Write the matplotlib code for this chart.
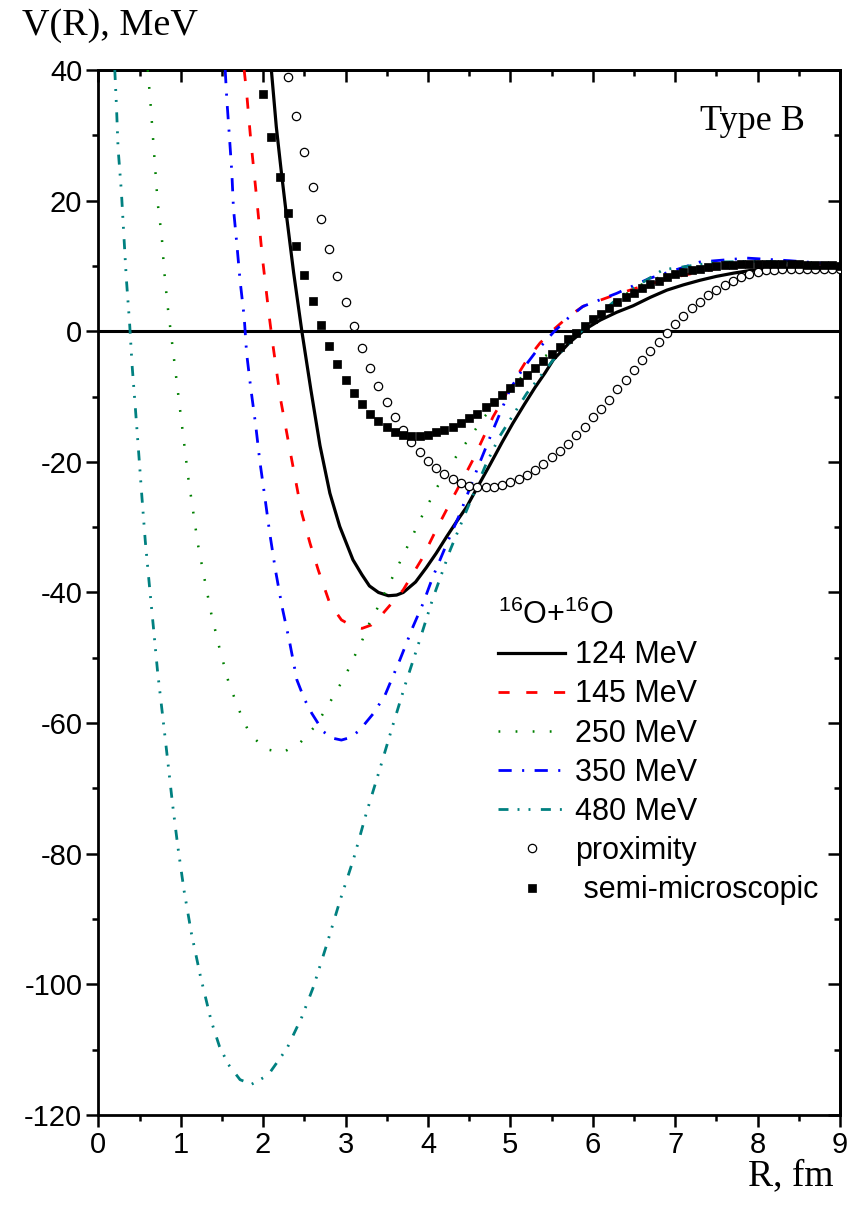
import matplotlib
matplotlib.use('Agg')
import matplotlib.pyplot as plt
from matplotlib.ticker import MultipleLocator

plt.rcParams['font.family'] = ['Liberation Sans', 'DejaVu Sans']
plt.rcParams['mathtext.fontset'] = 'custom'
plt.rcParams['mathtext.rm'] = 'Liberation Sans'
plt.rcParams['mathtext.it'] = 'Liberation Sans'
plt.rcParams['lines.scale_dashes'] = False
plt.rcParams['axes.unicode_minus'] = False

# 124 MeV (solid black)
r_124 = [2.10, 2.16, 2.22, 2.28, 2.37, 2.47, 2.58, 2.69, 2.81, 2.93, 3.09, 3.20, 3.29, 3.40, 3.52,
         3.62, 3.70, 3.85, 3.98, 4.10, 4.23, 4.35, 4.47, 4.60, 4.75, 4.90, 5.03, 5.17, 5.30, 5.42,
         5.52, 5.72, 5.92, 6.09, 6.29, 6.49, 6.70, 6.90, 7.10, 7.30, 7.50, 7.71, 7.91, 8.11, 8.51, 9.00]
v_124 = [40, 31.3, 24.5, 18.1, 9.0, 0, -9.0, -17.5, -24.8, -29.9, -35.0, -37.3, -39.0, -40.0, -40.5,
         -40.4, -40.0, -38.4, -36.2, -34.0, -31.4, -29.1, -26.9, -23.9, -20.5, -17.0, -14.1, -11.2, -8.6, -6.4,
         -4.4, -1.7, 0.4, 1.7, 2.9, 3.9, 5.2, 6.3, 7.1, 7.8, 8.4, 8.9, 9.3, 9.5, 9.7, 9.9]

# 145 MeV (red dashed)
r_145 = [1.77, 1.80, 1.85, 1.92, 1.99, 2.07, 2.11, 2.21, 2.34, 2.47, 2.57, 2.67, 2.81, 2.95, 3.09,
         3.20, 3.31, 3.42, 3.55, 3.70, 3.80, 3.92, 4.10, 4.31, 4.43, 4.55, 4.79, 5.00, 5.20, 5.36,
         5.52, 5.70, 5.88, 6.21, 6.60, 7.02, 7.50, 8.00, 8.50, 9.00]
v_145 = [40, 36.5, 29.3, 20.6, 11.4, 2.7, -1.3, -10.3, -19.2, -27.9, -32.5, -36.6, -41.7, -44.2, -45.2,
         -45.5, -45.0, -43.7, -41.8, -39.6, -37.5, -35.0, -30.4, -25.3, -22.5, -19.6, -13.1, -8.5, -4.4, -1.8,
         0.2, 2.2, 3.8, 5.3, 6.9, 8.35, 9.6, 10.2, 10.4, 10.2]

# 250 MeV (green dotted)
r_250 = [0.60, 0.63, 0.66, 0.69, 0.72, 0.77, 0.80, 0.84, 0.89, 0.94, 0.99, 1.04, 1.09, 1.15, 1.21,
         1.29, 1.37, 1.47, 1.58, 1.66, 1.74, 1.84, 2.03, 2.24, 2.45, 2.63, 2.76, 2.88, 3.00, 3.10,
         3.20, 3.29, 3.40, 3.50, 3.60, 3.70, 3.80, 3.90, 4.01, 4.12, 4.24, 4.38, 4.53, 4.67, 4.85,
         5.10, 5.36, 5.68, 6.00, 6.30, 6.60, 7.00, 7.50, 8.00, 8.50, 9.00]
v_250 = [40, 35.5, 30.3, 25.0, 19.7, 14.5, 9.2, 4.0, -1.2, -6.5, -11.8, -17.0, -22.3, -27.5, -32.7,
         -38.0, -43.2, -48.5, -53.7, -56.4, -59.0, -61.7, -64.0, -64.5, -63.0, -60.5, -57.9, -55.3, -52.7, -50.0,
         -47.4, -44.7, -42.1, -39.5, -36.9, -34.3, -31.7, -29.0, -26.3, -23.7, -21.1, -18.5, -15.9, -13.3, -10.8,
         -7.5, -4.3, -1.8, 1.8, 4.9, 7.2, 9.2, 10.3, 10.6, 10.5, 10.2]

# 350 MeV (blue dash-dot)
r_350 = [1.54, 1.56, 1.59, 1.62, 1.64, 1.68, 1.72, 1.77, 1.80, 1.85, 1.91, 1.96, 2.02, 2.08, 2.15,
         2.23, 2.32, 2.41, 2.50, 2.59, 2.73, 2.84, 2.95, 3.06, 3.17, 3.34, 3.48, 3.66, 3.82, 3.94,
         4.06, 4.23, 4.39, 4.61, 4.79, 5.00, 5.15, 5.30, 5.52, 5.70, 5.88, 6.29, 6.69, 7.30, 7.87,
         8.39, 9.00]
v_350 = [40, 35.4, 30.0, 24.4, 18.8, 13.5, 7.8, 2.2, -3.4, -8.7, -14.4, -19.9, -25.3, -30.9, -36.6,
         -42.2, -47.5, -53.4, -56.3, -58.5, -61.3, -62.3, -62.6, -62.2, -61.1, -58.5, -55.7, -50.3, -45.2, -41.7,
         -37.6, -32.5, -27.9, -20.7, -15.1, -8.8, -5.8, -3.3, -0.2, 2.0, 3.8, 5.8, 8.1, 10.6, 11.2,
         10.8, 10.2]

# 480 MeV (teal dash-dot-dot)
r_480 = [0.20, 0.22, 0.24, 0.28, 0.31, 0.34, 0.38, 0.41, 0.45, 0.49, 0.53, 0.57, 0.62, 0.67, 0.72,
         0.78, 0.84, 0.90, 0.965, 1.04, 1.13, 1.24, 1.37, 1.47, 1.58, 1.72, 1.86, 2.06, 2.29, 2.47,
         2.61, 2.77, 2.93, 3.10, 3.25, 3.41, 3.57, 3.73, 3.90, 4.06, 4.27, 4.47, 4.71, 4.87, 5.20,
         5.52, 5.76, 6.00, 6.33, 6.85, 7.50, 8.00, 8.50, 9.00]
v_480 = [40, 34.6, 28.0, 21.4, 14.7, 8.1, 1.2, -5.2, -11.8, -18.6, -25.5, -32.1, -38.9, -45.5, -52.2,
         -58.8, -65.5, -72.3, -78.9, -85.6, -92.2, -98.8, -105.6, -109.5, -112.3, -114.6, -115.3, -113.9, -109.8, -105.0,
         -100.4, -94.0, -87.3, -80.7, -73.9, -67.3, -60.5, -53.9, -47.3, -40.9, -33.5, -27.4, -20.2, -16.1, -9.5,
         -4.4, -1.3, 1.8, 5.3, 9.4, 10.6, 10.7, 10.5, 10.2]

# proximity (open circles), R = 2.3 ... 9.0
r_prox = [round(2.3 + 0.1 * i, 1) for i in range(68)]
v_prox = [38.9, 32.9, 27.4, 22.1, 17.2, 12.6, 8.4, 4.5, 0.85, -2.5,
          -5.6, -8.4, -10.9, -13.1, -15.1, -17.0, -18.5, -19.8, -21.0, -21.9,
          -22.7, -23.3, -23.7, -23.8, -23.9, -23.8, -23.6, -23.1, -22.7, -22.0,
          -21.2, -20.4, -19.3, -18.3, -17.2, -15.9, -14.6, -13.2, -11.9, -10.5,
          -8.9, -7.5, -6.0, -4.4, -3.0, -1.7, -0.2, 1.1, 2.3, 3.5,
          4.5, 5.5, 6.3, 7.1, 7.7, 8.3, 8.7, 9.0, 9.3, 9.4,
          9.5, 9.5, 9.5, 9.5, 9.5, 9.5, 9.5, 9.5]

# semi-microscopic (filled squares), R = 2.0 ... 9.0
r_semi = [round(2.0 + 0.1 * i, 1) for i in range(71)]
v_semi = [36.4, 29.7, 23.6, 18.1, 13.1, 8.6, 4.6, 1.0, -2.2, -5.0,
          -7.4, -9.4, -11.2, -12.6, -13.7, -14.7, -15.4, -15.9, -16.1, -16.1,
          -15.9, -15.5, -15.1, -14.6, -14.0, -13.3, -12.6, -11.6, -10.8, -9.8,
          -8.7, -7.8, -6.7, -5.6, -4.5, -3.5, -2.4, -1.2, -0.2, 0.8,
          1.8, 2.7, 3.6, 4.4, 5.2, 5.9, 6.6, 7.2, 7.7, 8.3,
          8.7, 9.0, 9.4, 9.6, 9.8, 10.0, 10.1, 10.2, 10.3, 10.3,
          10.3, 10.3, 10.3, 10.3, 10.3, 10.3, 10.2, 10.2, 10.1, 10.1,
          10.0]

fig = plt.figure(figsize=(8.54, 12.09), dpi=100)
ax = fig.add_axes([0.1151, 0.0778, 0.8685, 0.8643])

ax.axhline(0, color='black', lw=2.2, zorder=1)

ax.plot(r_124, v_124, color='black', lw=2.3, label='124 MeV', zorder=3)
ax.plot(r_145, v_145, color='#ff0000', lw=2.0, dashes=(8, 12), label='145 MeV', zorder=3)
ax.plot(r_250, v_250, color='#008000', lw=1.8, dashes=(1.3, 11), label='250 MeV', zorder=3)
ax.plot(r_350, v_350, color='#0000ff', lw=2.0, dashes=(9.5, 7.5, 1.5, 7.5), label='350 MeV', zorder=3)
ax.plot(r_480, v_480, color='#008080', lw=2.0, dashes=(7.2, 6.5, 1.4, 6.5, 1.4, 7.5), label='480 MeV', zorder=3)
ax.plot(r_prox, v_prox, ls='none', marker='o', ms=6.0, mfc='white', mec='black', mew=0.9,
        label='proximity', zorder=4)
ax.plot(r_semi, v_semi, ls='none', marker='s', ms=5.6, mfc='black', mec='black', mew=0.5,
        label=' semi-microscopic', zorder=5)

ax.set_xlim(0, 9)
ax.set_ylim(-120, 40)
ax.xaxis.set_major_locator(MultipleLocator(1))
ax.xaxis.set_minor_locator(MultipleLocator(0.5))
ax.yaxis.set_major_locator(MultipleLocator(20))
ax.yaxis.set_minor_locator(MultipleLocator(10))
for s in ax.spines.values():
    s.set_linewidth(2.0)
ax.tick_params(which='major', direction='out', length=8.5, width=1.8, labelsize=21, pad=3)
ax.tick_params(which='minor', direction='out', length=4.5, width=1.8)

# inward ticks on the top and right sides
top = ax.secondary_xaxis('top')
top.xaxis.set_major_locator(MultipleLocator(1))
top.xaxis.set_minor_locator(MultipleLocator(0.5))
top.tick_params(which='major', direction='in', length=8.5, width=1.8, labeltop=False)
top.tick_params(which='minor', direction='in', length=4.5, width=1.8)
top.spines['top'].set_linewidth(2.0)
right = ax.secondary_yaxis('right')
right.yaxis.set_major_locator(MultipleLocator(20))
right.yaxis.set_minor_locator(MultipleLocator(10))
right.tick_params(which='major', direction='in', length=8.5, width=1.8, labelright=False)
right.tick_params(which='minor', direction='in', length=4.5, width=1.8)
right.spines['right'].set_linewidth(2.0)

fig.text(0.026, 0.971, 'V(R), MeV', family='Liberation Serif', fontsize=27.5, ha='left', va='baseline')
fig.text(0.976, 0.0195, 'R, fm', family='Liberation Serif', fontsize=27, ha='right', va='baseline')
ax.text(0.953, 0.9426, 'Type B', family='Liberation Serif', fontsize=26, ha='right', va='baseline',
        transform=ax.transAxes)

leg = ax.legend(loc='upper left', bbox_to_anchor=(0.539, 0.493), frameon=False, fontsize=22,
                title=r'$^{16}$O+$^{16}$O', title_fontsize=22, alignment='left',
                handlelength=2.2, handletextpad=0.32, labelspacing=0.3, borderpad=0,
                borderaxespad=0, markerscale=1.0)

fig.savefig('out.png', dpi=100)
